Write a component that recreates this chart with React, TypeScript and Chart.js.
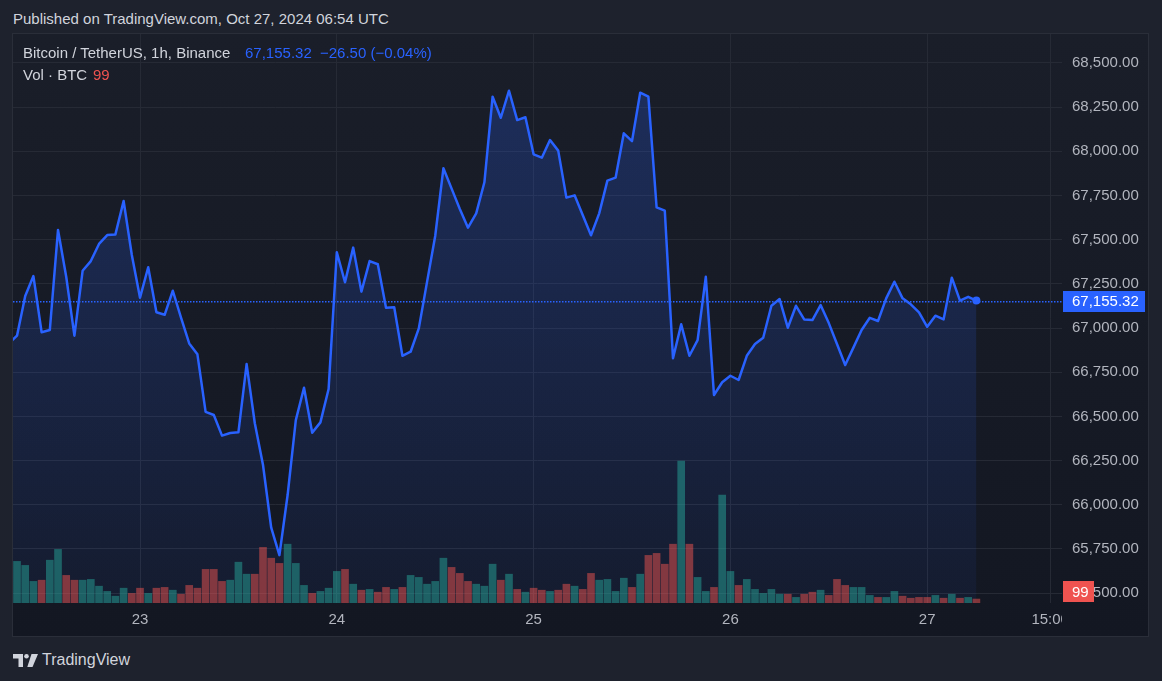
import React, { useEffect, useRef } from "react";
import { Chart, registerables } from "chart.js";

Chart.register(...registerables);

// Hours counted from 23 Oct 2024 00:00 UTC
const FIRST_PRICE_HOUR = -16; // 22 Oct 08:00
const FIRST_VOLUME_HOUR = -15; // 22 Oct 09:00

const PRICES = [
  66912,
  66957, 67181, 67294, 66976, 66989, 67555, 67290, 66957, 67324, 67379,
  67476, 67526, 67530, 67719, 67413, 67172, 67344, 67089, 67075, 67211,
  67059, 66913, 66851, 66526, 66508, 66391, 66406, 66410, 66796, 66461,
  66225, 65870, 65715, 66055, 66479, 66662, 66408, 66466, 66655, 67429,
  67259, 67455, 67206, 67379, 67361, 67115, 67118, 66843, 66866, 66998,
  67260, 67521, 67904, 67789, 67674, 67568, 67649, 67825, 68309, 68190,
  68343, 68177, 68193, 67983, 67964, 68064, 68004, 67738, 67751, 67638,
  67525, 67649, 67834, 67851, 68102, 68058, 68332, 68309, 67683, 67664,
  66829, 67021, 66843, 66932, 67290, 66621, 66693, 66730, 66706, 66843,
  66910, 66945, 67126, 67164, 67002, 67126, 67049, 67045, 67130, 67028,
  66910, 66791, 66889, 66989, 67058, 67040, 67168, 67262, 67168, 67134,
  67089, 67007, 67070, 67049, 67285, 67155, 67177, 67155.32,
];

const VOLUMES = [
  1040, 940, 540, 570, 1070, 1340, 690, 570, 570, 590,
  420, 290, 170, 370, 240, 370, 240, 370, 390, 320,
  220, 440, 370, 840, 840, 540, 570, 1020, 720, 720,
  1390, 1120, 990, 1470, 990, 440, 240, 290, 370, 790,
  840, 470, 320, 340, 270, 390, 340, 390, 690, 640,
  470, 540, 1120, 890, 740, 540, 470, 420, 970, 570,
  720, 340, 270, 370, 320, 290, 320, 470, 420, 340,
  740, 570, 590, 290, 620, 390, 720, 1190, 1240, 970,
  1470, 3550, 1470, 640, 290, 390, 2700, 790, 440, 590,
  340, 240, 340, 220, 220, 140, 220, 270, 320, 190,
  590, 440, 390, 390, 190, 140, 140, 290, 170, 120,
  140, 140, 190, 120, 220, 120, 140, 99,
];

const VOLUME_UP = [
  1, 1, 1, 0, 1, 1, 0, 0, 1, 1,
  1, 1, 1, 1, 0, 0, 1, 0, 0, 1,
  0, 0, 0, 0, 0, 0, 1, 1, 1, 0,
  0, 0, 0, 1, 1, 1, 0, 1, 1, 1,
  0, 1, 0, 1, 0, 0, 1, 0, 1, 1,
  1, 1, 1, 0, 0, 0, 1, 1, 1, 0,
  1, 0, 1, 0, 0, 1, 0, 0, 1, 0,
  0, 1, 1, 1, 1, 0, 1, 0, 0, 0,
  0, 1, 0, 1, 1, 0, 1, 1, 0, 1,
  1, 1, 1, 1, 0, 1, 0, 0, 1, 0,
  0, 0, 1, 1, 1, 0, 1, 1, 0, 0,
  0, 0, 1, 0, 1, 0, 1, 0,
];

const TIME_TICK_HOURS = [0, 24, 48, 72, 96, 111];
const TIME_TICK_LABELS = ["23", "24", "25", "26", "27", "15:00"];
const PRICE_TICKS = [
  65500, 65750, 66000, 66250, 66500, 66750, 67000, 67250, 67500, 67750, 68000,
  68250, 68500,
];

const LAST_PRICE = 67155.32;
const LAST_CHANGE = "\u221226.50 (\u22120.04%)";
const LAST_VOLUME = 99;

const FONT = "'Liberation Sans', Arial, sans-serif";
const BLUE = "#2962ff";
const RED = "#ef5350";
const TEXT = "#d1d4dc";
const AXIS_TEXT = "#b2b5be";
const GRID = "#262a35";

const fmtPrice = (v: number) =>
  v.toLocaleString("en-US", { minimumFractionDigits: 2, maximumFractionDigits: 2 });

export default function App() {
  const canvasRef = useRef<HTMLCanvasElement>(null);

  useEffect(() => {
    const canvas = canvasRef.current;
    if (!canvas) return;

    const bg = (ctx: CanvasRenderingContext2D, h: number) => {
      const g = ctx.createLinearGradient(0, 0, 0, h);
      g.addColorStop(0, "#1a1e29");
      g.addColorStop(1, "#131722");
      return g;
    };

    const decor = {
      id: "decor",
      beforeDraw(chart: any) {
        const { ctx, width, height } = chart;
        ctx.save();
        ctx.fillStyle = bg(ctx, height);
        ctx.fillRect(0, 0, width, height);
        ctx.restore();
      },
      afterDatasetsDraw(chart: any) {
        const { ctx, chartArea } = chart;
        const y = Math.round(chart.scales.y.getPixelForValue(LAST_PRICE));
        ctx.save();
        ctx.fillStyle = BLUE;
        for (let x = chartArea.left; x < chartArea.right; x += 3) {
          ctx.fillRect(x, y, 1.5, 1.5);
        }
        ctx.restore();
      },
      afterDraw(chart: any) {
        const { ctx, chartArea, width, height } = chart;
        ctx.save();
        // clip time labels under the price scale
        ctx.fillStyle = bg(ctx, height);
        ctx.fillRect(chartArea.right, chartArea.bottom, width - chartArea.right, height - chartArea.bottom);
        ctx.font = `15px ${FONT}`;
        ctx.textBaseline = "middle";
        ctx.textAlign = "left";
        // last price box
        const py = Math.round(chart.scales.y.getPixelForValue(LAST_PRICE));
        ctx.fillStyle = BLUE;
        ctx.fillRect(chartArea.right + 1, py - 10, 82, 21);
        ctx.fillStyle = "#ffffff";
        ctx.fillText(fmtPrice(LAST_PRICE), chartArea.right + 10, py + 1);
        // last volume box
        const vy = Math.min(
          chart.scales.yv.getPixelForValue(LAST_VOLUME),
          chartArea.bottom - 11.5
        );
        ctx.fillStyle = RED;
        ctx.fillRect(chartArea.right + 1, Math.round(vy - 10.5), 31, 21);
        ctx.fillStyle = "#ffffff";
        ctx.fillText(String(LAST_VOLUME), chartArea.right + 10, Math.round(vy) + 1);
        ctx.restore();
      },
    };

    const priceData = PRICES.map((p, i) => ({ x: FIRST_PRICE_HOUR + i, y: p }));
    const volData = VOLUMES.map((v, i) => ({ x: FIRST_VOLUME_HOUR + i, y: v }));
    const lastIndex = PRICES.length - 1;

    Chart.defaults.font.family = FONT;

    const chart = new Chart(canvas, {
      type: "line",
      data: {
        datasets: [
          {
            type: "line",
            data: priceData,
            borderColor: BLUE,
            borderWidth: 2.5,
            borderJoinStyle: "round",
            tension: 0,
            fill: "start",
            backgroundColor: (c: any) => {
              const area = c.chart.chartArea;
              if (!area) return "rgba(41,98,255,0.15)";
              const g = c.chart.ctx.createLinearGradient(0, area.top, 0, area.bottom);
              g.addColorStop(0, "rgba(41,98,255,0.25)");
              g.addColorStop(1, "rgba(41,98,255,0.06)");
              return g;
            },
            pointRadius: (c: any) => (c.dataIndex === lastIndex ? 4 : 0),
            pointBackgroundColor: BLUE,
            pointBorderWidth: 0,
            yAxisID: "y",
            order: 0,
          },
          {
            type: "bar",
            data: volData,
            backgroundColor: VOLUME_UP.map((u) =>
              u ? "rgba(38,166,154,0.5)" : "rgba(239,83,80,0.5)"
            ),
            barThickness: 7,
            yAxisID: "yv",
            order: 1,
          } as any,
        ],
      },
      options: {
        animation: false,
        responsive: false,
        maintainAspectRatio: false,
        layout: { padding: 0, autoPadding: false },
        plugins: {
          legend: { display: false },
          tooltip: { enabled: false },
          filler: { drawTime: "beforeDatasetsDraw" } as any,
        },
        scales: {
          x: {
            type: "linear",
            offset: false,
            min: -15.49,
            max: 112.44,
            afterBuildTicks: (s: any) => {
              s.ticks = TIME_TICK_HOURS.map((v) => ({ value: v }));
            },
            afterFit: (s: any) => {
              s.height = 33;
              s.paddingLeft = 0;
              s.paddingRight = 0;
              s.paddingTop = 0;
              s.paddingBottom = 0;
            },
            ticks: {
              autoSkip: false,
              maxRotation: 0,
              padding: 8,
              color: AXIS_TEXT,
              font: { size: 15, family: FONT },
              callback: (v: any) => {
                const i = TIME_TICK_HOURS.indexOf(Number(v));
                return i >= 0 ? TIME_TICK_LABELS[i] : "";
              },
            },
            grid: { color: GRID, drawTicks: false, offset: false },
            border: { display: false },
          },
          y: {
            type: "linear",
            position: "right",
            min: 65444,
            max: 68664,
            afterBuildTicks: (s: any) => {
              s.ticks = PRICE_TICKS.map((v) => ({ value: v }));
            },
            afterFit: (s: any) => {
              s.width = 86;
              s.paddingLeft = 0;
              s.paddingRight = 0;
              s.paddingTop = 0;
              s.paddingBottom = 0;
            },
            ticks: {
              padding: 10,
              color: AXIS_TEXT,
              font: { size: 15, family: FONT },
              callback: (v: any) => fmtPrice(Number(v)),
            },
            grid: { color: GRID, drawTicks: false },
            border: { display: false },
          },
          yv: {
            type: "linear",
            display: false,
            min: 0,
            max: 14225,
            grid: { display: false },
          },
        },
      } as any,
      plugins: [decor],
    });

    return () => chart.destroy();
  }, []);

  return (
    <div
      style={{
        position: "fixed",
        left: 0,
        top: 0,
        width: 1162,
        height: 681,
        background: "#1e222d",
        overflow: "hidden",
        fontFamily: FONT,
        fontSize: 15,
        color: TEXT,
      }}
    >
      <div style={{ position: "absolute", left: 13, top: 10, lineHeight: "18px", whiteSpace: "nowrap" }}>
        Published on TradingView.com, Oct 27, 2024 06:54 UTC
      </div>
      <div
        style={{
          position: "absolute",
          left: 12,
          top: 33,
          width: 1135,
          height: 602,
          border: "1px solid #2a2e39",
        }}
      >
        <canvas ref={canvasRef} width={1135} height={602} style={{ display: "block" }} />
      </div>
      <div style={{ position: "absolute", left: 23, top: 44, lineHeight: "18px", whiteSpace: "nowrap" }}>
        Bitcoin / TetherUS, 1h, Binance
      </div>
      <div style={{ position: "absolute", left: 245, top: 44, lineHeight: "18px", color: BLUE, whiteSpace: "nowrap" }}>
        {fmtPrice(LAST_PRICE)}
      </div>
      <div style={{ position: "absolute", left: 320, top: 44, lineHeight: "18px", color: BLUE, whiteSpace: "nowrap" }}>
        {LAST_CHANGE}
      </div>
      <div style={{ position: "absolute", left: 23, top: 66, lineHeight: "18px", whiteSpace: "nowrap" }}>
        Vol · BTC
      </div>
      <div style={{ position: "absolute", left: 93, top: 66, lineHeight: "18px", color: RED, whiteSpace: "nowrap" }}>
        {LAST_VOLUME}
      </div>
      <div style={{ position: "absolute", left: 13, top: 651, display: "flex", alignItems: "center", gap: 4 }}>
        <svg width="25" height="13" viewBox="0 0 25 13">
          <path d="M0 0h10v13H5.5V4.5H0z" fill={TEXT} />
          <circle cx="13.5" cy="2.3" r="2.3" fill={TEXT} />
          <path d="M18.5 0H25l-5.5 13h-5.2z" fill={TEXT} />
        </svg>
        <span style={{ fontSize: 16, lineHeight: "18px", color: TEXT }}>TradingView</span>
      </div>
    </div>
  );
}
